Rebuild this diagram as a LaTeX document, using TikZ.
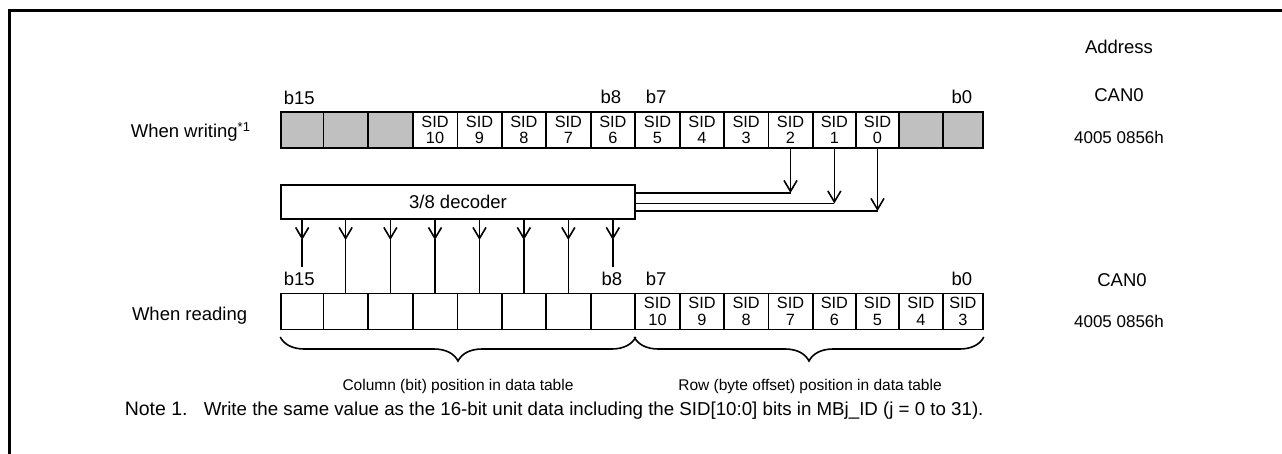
\documentclass[tikz,border=0pt]{standalone}
\usepackage{fontspec}
\setmainfont{Liberation Sans}
\usetikzlibrary{arrows.meta,decorations.pathreplacing}
\definecolor{cellgray}{HTML}{C0C0C0}
\begin{document}
\begin{tikzpicture}[x=1pt,y=-1pt,line width=1.6pt,
  cell/.style={draw, inner sep=0pt, minimum height=36pt, align=center, font=\fontsize{16.3}{16.5}\selectfont},
  greycell/.style={cell, fill=cellgray},
  lbl/.style={inner sep=0pt, font=\fontsize{18.5}{20}\selectfont},
  small/.style={inner sep=0pt, font=\fontsize{15.5}{17}\selectfont},
  addr/.style={inner sep=0pt, font=\fontsize{17}{19}\selectfont},
  arr/.style={-{Straight Barb[length=11pt,width=13pt]}},
  bracestyle/.style={decorate, decoration={brace, amplitude=24pt}}]
\useasboundingbox (0,0) rectangle (1282,454);
\draw[line width=3pt, line join=miter] (9,454) -- (9,10.5) -- (1282,10.5);

% top register
\foreach \b/\l/\r in {15/281/323.3, 14/323.3/368, 13/368/412.7, 1/899/942.7, 0/942.7/983}{
  \pgfmathsetmacro\w{\r-\l}\pgfmathsetmacro\c{(\r+\l)/2}
  \node[greycell, minimum width=\w pt] (t\b) at (\c,130) {};}
\foreach \b/\l/\r/\s in {12/412.7/457.3/10, 11/457.3/501.7/9, 10/501.7/546/8, 9/546/590.7/7, 8/590.7/635/6, 7/635/680/5, 6/680/724/4, 5/724/768.3/3, 4/768.3/812.7/2, 3/812.7/856/1, 2/856/899/0}{
  \pgfmathsetmacro\w{\r-\l}\pgfmathsetmacro\c{(\r+\l)/2}
  \node[cell, minimum width=\w pt] (t\b) at (\c,130) {SID\\\s};}

% bottom register
\foreach \b/\l/\r in {15/281/323.3, 14/323.3/368, 13/368/412.7, 12/412.7/457.3, 11/457.3/501.7, 10/501.7/546, 9/546/590.7, 8/590.7/635}{
  \pgfmathsetmacro\w{\r-\l}\pgfmathsetmacro\c{(\r+\l)/2}
  \node[cell, minimum width=\w pt] (b\b) at (\c,311.5) {};}
\foreach \b/\l/\r/\s in {7/635/680/10, 6/680/724/9, 5/724/768.3/8, 4/768.3/812.7/7, 3/812.7/856/6, 2/856/899/5, 1/899/942.7/4, 0/942.7/983/3}{
  \pgfmathsetmacro\w{\r-\l}\pgfmathsetmacro\c{(\r+\l)/2}
  \node[cell, minimum width=\w pt] (b\b) at (\c,311.5) {SID\\\s};}

% decoder
\node[draw, inner sep=0pt, minimum width=354pt, minimum height=34pt, font=\fontsize{18.5}{20}\selectfont] (dec) at (458,202) {3/8 decoder};

% SID inputs to decoder
\foreach \b/\y in {4/193, 3/203.5, 2/211}{
  \draw[arr] (t\b.south) -- (t\b.south |- 0,\y);
  \draw (dec.east |- 0,\y) -- (t\b.south |- 0,\y);}

% decoder outputs
\foreach \b in {15,14,13,12,11,10,9,8}{
  \draw[arr] (dec.south -| b\b.north) -- (b\b.north |- 0,240);}
\foreach \b in {14,13,12,11,10,9}{
  \draw (b\b.north |- 0,239) -- (b\b.north);}
\foreach \b in {15,8}{
  \coordinate (e\b) at (b\b.north |- 0,267);
  \draw (b\b.north |- 0,239) -- (e\b);}

% bit labels
\node[lbl, anchor=base west] (lt15) at (283,105) {b15};
\node[lbl, anchor=base east] (lt8) at (622,104) {b8};
\node[lbl, anchor=base west] (lt7) at (645,104) {b7};
\node[lbl, anchor=base east] (lt0) at (973,104) {b0};
\node[lbl, anchor=base west] (lb15) at (283,286) {b15};
\node[lbl, anchor=base east] (lb8) at (623,286) {b8};
\node[lbl, anchor=base west] (lb7) at (645,286) {b7};
\node[lbl, anchor=base east] (lb0) at (973,286) {b0};

% address
\node[lbl, anchor=base] (address) at (1119,54) {Address};
\node[lbl, anchor=base] (can0t) at (1119,101.7) {CAN0};
\node[addr, anchor=base] (adt) at (1119,144) {4005 0856h};
\node[lbl, anchor=base] (can0b) at (1122,286.5) {CAN0};
\node[addr, anchor=base] (adb) at (1119,327) {4005 0856h};

% row labels
\node[lbl, anchor=base west] (wwrite) at (130,138) {When writing\textsuperscript{*1}};
\node[lbl, anchor=base east] (wread) at (248,320) {When reading};

% braces
\draw[bracestyle] (b8.south east |- 0,337) -- (b15.south west |- 0,337);
\draw[bracestyle] (b0.south east |- 0,337) -- (b7.south west |- 0,337);
\node[small, anchor=base] (colt) at (458,390) {Column (bit) position in data table};
\node[small, anchor=base] (rowt) at (810,390) {Row (byte offset) position in data table};

% note
\node[lbl, anchor=base west, font=\fontsize{19.5}{21}\selectfont] (note) at (124,415) {Note 1.};
\node[lbl, anchor=base west, font=\fontsize{18.7}{21}\selectfont] (notetext) at (203,415) {Write the same value as the 16-bit unit data including the SID[10:0] bits in MBj\_ID (j = 0 to 31).};
\end{tikzpicture}
\end{document}
